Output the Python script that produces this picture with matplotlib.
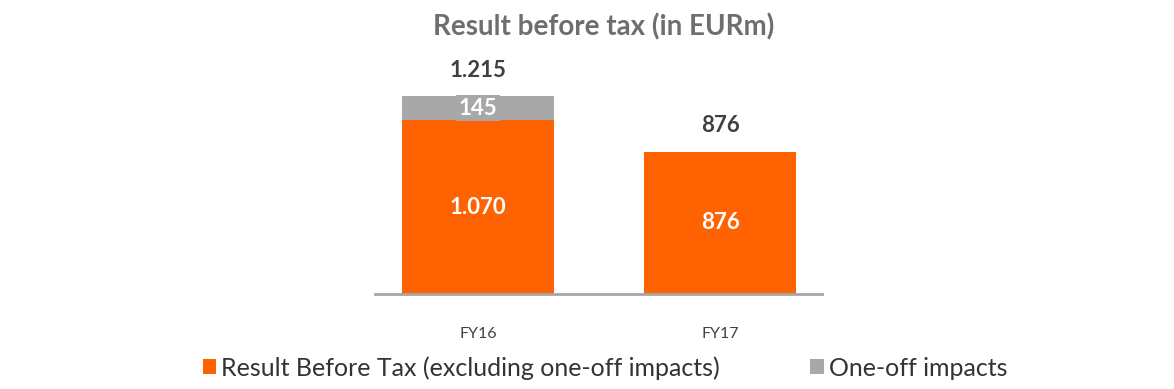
import matplotlib.pyplot as plt

# data
years = ["FY16", "FY17"]
base = [1070, 876]
oneoff = [145, 0]
base_labels = ["1.070", "876"]
oneoff_labels = ["145", ""]
total_labels = ["1.215", "876"]

orange = "#FF6200"
grey = "#A8A8A8"

plt.rcParams['font.family'] = ['Lato', 'DejaVu Sans']

fig = plt.figure(figsize=(11.74, 3.89), dpi=100)
W, H = 1174, 389
# axes in pixel terms: x 375..822, y baseline at 294, top at 40
ax = fig.add_axes([375 / W, (H - 294) / H, (822 - 375) / W, (294 - 40) / H])

x = range(len(years))
ax.bar(x, base, width=0.628, color=orange, label="Result Before Tax (excluding one-off impacts)")
ax.bar(x, oneoff, width=0.628, bottom=base, color=grey, label="One-off impacts")

ax.set_xlim(-0.426, 1.421)
ax.set_ylim(0, 1562)

for i in x:
    ax.text(i, base[i] / 2, base_labels[i], ha="center", va="center",
            color="white", fontsize=16, fontweight="bold")
    if oneoff[i]:
        ax.text(i, base[i] + oneoff[i] / 2, oneoff_labels[i], ha="center", va="center",
                color="white", fontsize=16, fontweight="bold",
                bbox=dict(facecolor=grey, edgecolor="none", pad=2))
    top = base[i] + oneoff[i]
    ax.text(i, top + 95, total_labels[i], ha="center", va="bottom",
            color="#404040", fontsize=16, fontweight="bold")

for s in ["top", "right", "left"]:
    ax.spines[s].set_visible(False)
ax.spines["bottom"].set_color("#A6A6A6")
ax.spines["bottom"].set_linewidth(2)
ax.set_yticks([])
ax.set_xticks(list(x))
ax.set_xticklabels(years, fontsize=11.5, color="#404040")
ax.tick_params(axis="x", length=0, pad=24)

fig.text(604 / W, 1 - 27 / H, "Result before tax (in EURm)", ha="center", va="center",
         fontsize=20, fontweight="bold", color="#6E6E6E")

fig.legend(loc="center", bbox_to_anchor=(605 / W, 1 - 368 / H), ncol=2, frameon=False,
           fontsize=18, handlelength=0.55, handleheight=0.55, handletextpad=0.2,
           columnspacing=3.6, labelcolor="#333333", borderaxespad=0)

fig.savefig("out.png", dpi=100)
